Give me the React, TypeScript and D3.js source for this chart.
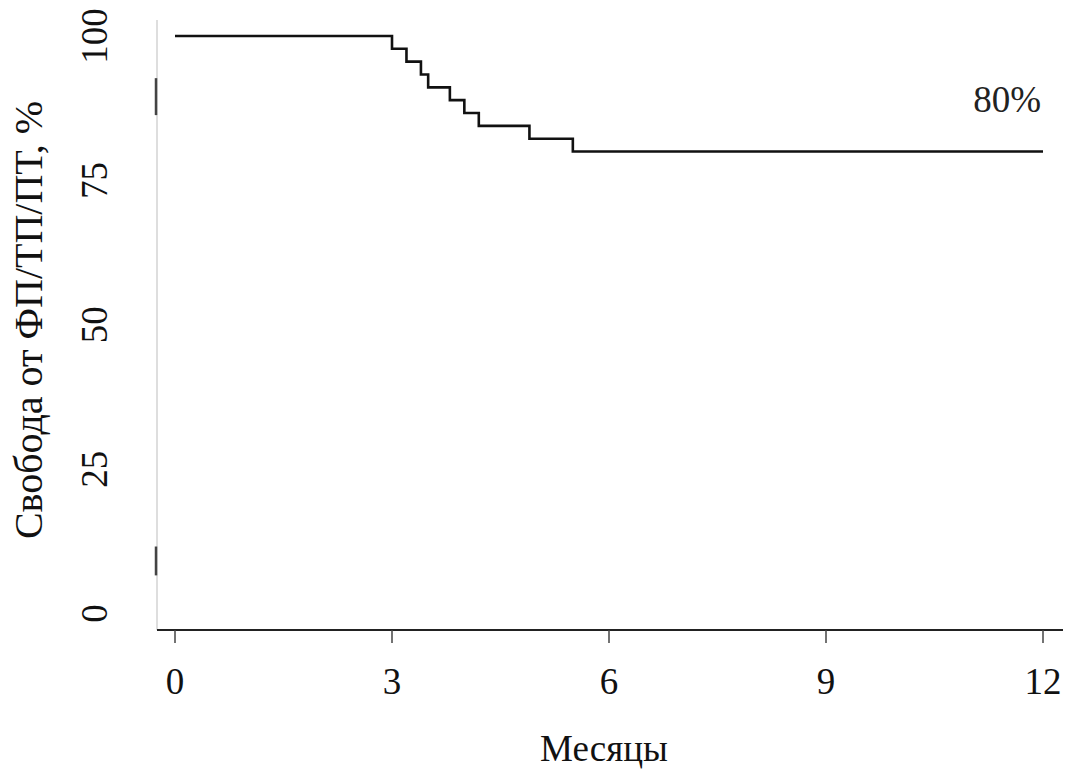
import React from "react";
import * as d3 from "d3";

const eventTimes = [0, 3.0, 3.2, 3.4, 3.5, 3.8, 4.0, 4.2, 4.9, 5.5];
const survival = [100, 97.78, 95.56, 93.33, 91.11, 88.89, 86.67, 84.44, 82.22, 80.0];
const endTime = 12;
const xTicks = [0, 3, 6, 9, 12];
const yTicks = [0, 25, 50, 75, 100];
const axisMarks = [
  [86.3, 92.7],
  [6.6, 11.6],
];
const finalLabel = "80%";
const xTitle = "Месяцы";
const yTitle = "Свобода от ФП/ТП/ПТ, %";

const W = 1073;
const H = 772;
const FONT = 'Liberation Serif, Tinos, Nimbus Roman, DejaVu Serif, serif';

export default function App() {
  const x = d3.scaleLinear().domain([0, 12]).range([175, 1043]);
  const y = d3.scaleLinear().domain([0, 100]).range([613.5, 36]);

  const pts: [number, number][] = eventTimes.map((t, i) => [t, survival[i]]);
  pts.push([endTime, survival[survival.length - 1]]);
  const line = d3
    .line<[number, number]>()
    .x((d) => x(d[0]))
    .y((d) => y(d[1]))
    .curve(d3.curveStepAfter);

  const axisX = 157;
  const axisY = 630;

  return (
    <svg
      width={W}
      height={H}
      style={{ position: "absolute", left: 0, top: 0, background: "#fff", fontFamily: FONT }}
    >
      <rect x={0} y={0} width={W} height={H} fill="#fff" />
      <line x1={axisX} x2={axisX} y1={20} y2={axisY} stroke="#c8c8c8" strokeWidth={1.2} />
      {axisMarks.map((m, i) => (
        <line
          key={i}
          x1={axisX - 1}
          x2={axisX - 1}
          y1={y(m[1])}
          y2={y(m[0])}
          stroke="#444"
          strokeWidth={2.5}
        />
      ))}
      {yTicks.map((t) => (
        <text
          key={t}
          transform={`translate(107,${y(t)}) rotate(-90)`}
          textAnchor="middle"
          fontSize={37}
          fill="#111"
          fontFamily={FONT}
        >
          {t}
        </text>
      ))}
      <text
        transform={`translate(42,${320}) rotate(-90)`}
        textAnchor="middle"
        fontSize={40}
        fill="#111"
        fontFamily={FONT}
      >
        {yTitle}
      </text>
      <line x1={axisX} x2={1063} y1={axisY} y2={axisY} stroke="#222" strokeWidth={2} />
      {xTicks.map((t) => (
        <g key={t}>
          <line x1={x(t)} x2={x(t)} y1={axisY} y2={axisY + 13} stroke="#444" strokeWidth={1.5} />
          <text x={x(t)} y={694} textAnchor="middle" fontSize={37} fill="#111" fontFamily={FONT}>
            {t}
          </text>
        </g>
      ))}
      <text x={604} y={761} textAnchor="middle" fontSize={37} fill="#111" fontFamily={FONT}>
        {xTitle}
      </text>
      <path d={line(pts) || ""} fill="none" stroke="#111" strokeWidth={2.6} />
      <text x={1041} y={112} textAnchor="end" fontSize={37} fill="#222" fontFamily={FONT}>
        {finalLabel}
      </text>
    </svg>
  );
}
